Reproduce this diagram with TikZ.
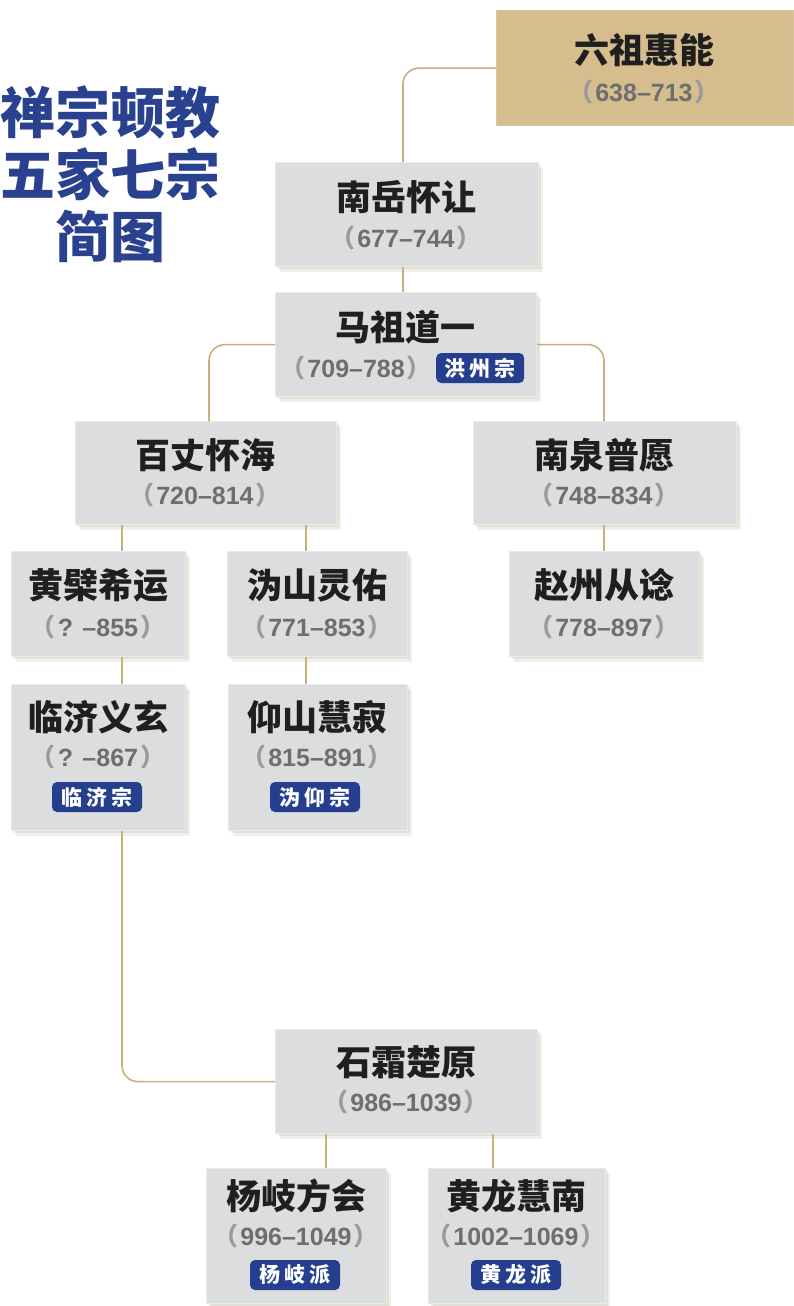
\documentclass[tikz,border=0pt]{standalone}
\usepackage{fontspec}
\newfontfamily\cjk{Noto Sans CJK SC}
\newfontfamily\num{Liberation Sans}
\usetikzlibrary{shadows}
\definecolor{boxgray}{HTML}{DCDDDF}
\definecolor{boxedge}{HTML}{E9EAEB}
\definecolor{tan}{HTML}{D6BD8E}
\definecolor{tanedge}{HTML}{DCC69C}
\definecolor{conncol}{HTML}{C8B27C}
\definecolor{navy}{HTML}{253F8E}
\definecolor{titlenavy}{HTML}{2A4190}
\definecolor{datecol}{HTML}{6E6E70}
\definecolor{parcol}{HTML}{9A9A9C}
\definecolor{shadowcol}{HTML}{C9C2AE}
\tikzset{
  x=1pt, y=-1pt,
  personbox/.style={draw=boxedge, line width=1.2pt, fill=boxgray, anchor=north west, inner sep=0pt,
    drop shadow={shadow xshift=4pt, shadow yshift=-5pt, opacity=0.25, fill=shadowcol},
    drop shadow={shadow xshift=2pt, shadow yshift=-2.5pt, opacity=0.35, fill=shadowcol}},
  tanbox/.style={draw=tanedge, line width=1.2pt, fill=tan, anchor=north west, inner sep=0pt},
  conn/.style={draw=conncol, line width=1.6pt, rounded corners=16pt},
  nametext/.style={font=\cjk\bfseries\fontsize{35}{35}\selectfont, text=black!88, inner sep=0pt},
  datetext/.style={font=\num\bfseries\fontsize{25}{25}\selectfont, text=datecol, inner sep=0pt},
  badge/.style={fill=navy, rounded corners=5pt, text=white, minimum width=90pt, minimum height=30pt,
    inner sep=0pt, font=\cjk\bfseries\fontsize{21}{21}\selectfont},
  bigtitle/.style={font=\cjk\bfseries\fontsize{55}{55}\selectfont, text=titlenavy, inner sep=0pt}
}
\newcommand{\dt}[1]{{\cjk\color{parcol}（}\hspace{2pt}#1\hspace{2pt}{\cjk\color{parcol}）}}
\newcommand{\bd}[3]{#1\hspace{4pt}#2\hspace{4pt}#3}
\begin{document}
\begin{tikzpicture}
\useasboundingbox[fill=white] (0,0) rectangle (794,1306);

% title
\node[bigtitle] (t1) at (110,112) {禅宗顿教};
\node[bigtitle] (t2) at (110,174) {五家七宗};
\node[bigtitle] (t3) at (110,236) {简图};

% helper x coordinates
\coordinate (xa) at (122,0);
\coordinate (xb) at (306,0);
\coordinate (xc) at (403,0);
\coordinate (xd) at (209,0);
\coordinate (xe) at (604,0);
\coordinate (xf) at (326,0);
\coordinate (xg) at (493,0);

% boxes
\path (496,10) node[tanbox, minimum width=297pt, minimum height=115pt] (liuzu) {};
\path (275,162) node[personbox, minimum width=263pt, minimum height=104pt] (nanyue) {};
\path (275,292) node[personbox, minimum width=261pt, minimum height=104pt] (mazu) {};
\path (75,421) node[personbox, minimum width=261pt, minimum height=103pt] (baizhang) {};
\path (473,421) node[personbox, minimum width=263pt, minimum height=103pt] (nanquan) {};
\path (11,551) node[personbox, minimum width=174pt, minimum height=105pt] (huangbo) {};
\path (227,551) node[personbox, minimum width=180pt, minimum height=105pt] (guishan) {};
\path (509,551) node[personbox, minimum width=190pt, minimum height=105pt] (zhaozhou) {};
\path (11,684) node[personbox, minimum width=174pt, minimum height=146pt] (linji) {};
\path (228,684) node[personbox, minimum width=179pt, minimum height=146pt] (yangshan) {};
\path (275,1029) node[personbox, minimum width=262pt, minimum height=104pt] (shishuang) {};
\path (206,1168) node[personbox, minimum width=180pt, minimum height=135pt] (yangqi) {};
\path (428,1168) node[personbox, minimum width=177pt, minimum height=135pt] (huanglong) {};

% connectors
\draw[conn] (liuzu.west) -| (nanyue.north -| xc);
\draw[conn] (nanyue.south -| xc) -- (mazu.north -| xc);
\draw[conn] (mazu.west) -| (baizhang.north -| xd);
\draw[conn] (mazu.east) -| (nanquan.north -| xe);
\draw[conn] (baizhang.south -| xa) -- (huangbo.north -| xa);
\draw[conn] (baizhang.south -| xb) -- (guishan.north -| xb);
\draw[conn] (nanquan.south -| xe) -- (zhaozhou.north -| xe);
\draw[conn] (huangbo.south -| xa) -- (linji.north -| xa);
\draw[conn] (guishan.south -| xb) -- (yangshan.north -| xb);
\draw[conn] (linji.south -| xa) |- (shishuang.west);
\draw[conn] (shishuang.south -| xf) -- (yangqi.north -| xf);
\draw[conn] (shishuang.south -| xg) -- (huanglong.north -| xg);

% texts
\node[nametext] (n1) at (644,50) {六祖惠能};
\node[datetext] (d1) at (644,92) {\dt{638–713}};

\node[nametext] (n2) at (406,197) {南岳怀让};
\node[datetext] (d2) at (406,238) {\dt{677–744}};

\node[nametext] (n3) at (405,327) {马祖道一};
\node[datetext, anchor=east] (d3) at (432,368) {\dt{709–788}};
\node[badge, anchor=west, minimum width=88pt] (b3) at (436,368) {\bd{洪}{州}{宗}};

\node[nametext] (n4) at (205,455) {百丈怀海};
\node[datetext] (d4) at (205,495) {\dt{720–814}};

\node[nametext] (n5) at (604,455) {南泉普愿};
\node[datetext] (d5) at (604,495) {\dt{748–834}};

\node[nametext] (n6) at (98,585) {黄檗希运};
\node[datetext] (d6) at (98,627) {\dt{? –855}};

\node[nametext] (n7) at (317,585) {沩山灵佑};
\node[datetext] (d7) at (317,627) {\dt{771–853}};

\node[nametext] (n8) at (604,585) {赵州从谂};
\node[datetext] (d8) at (604,627) {\dt{778–897}};

\node[nametext] (n9) at (98,717) {临济义玄};
\node[datetext] (d9) at (98,757) {\dt{? –867}};
\node[badge] (b9) at (97,797) {\bd{临}{济}{宗}};

\node[nametext] (n10) at (317,717) {仰山慧寂};
\node[datetext] (d10) at (317,757) {\dt{815–891}};
\node[badge] (b10) at (315,797) {\bd{沩}{仰}{宗}};

\node[nametext] (n11) at (406,1062) {石霜楚原};
\node[datetext] (d11) at (406,1102) {\dt{986–1039}};

\node[nametext] (n12) at (296,1196) {杨岐方会};
\node[datetext] (d12) at (296,1236) {\dt{996–1049}};
\node[badge] (b12) at (295,1275) {\bd{杨}{岐}{派}};

\node[nametext] (n13) at (516,1196) {黄龙慧南};
\node[datetext] (d13) at (516,1236) {\dt{1002–1069}};
\node[badge] (b13) at (516,1275) {\bd{黄}{龙}{派}};
\end{tikzpicture}
\end{document}
